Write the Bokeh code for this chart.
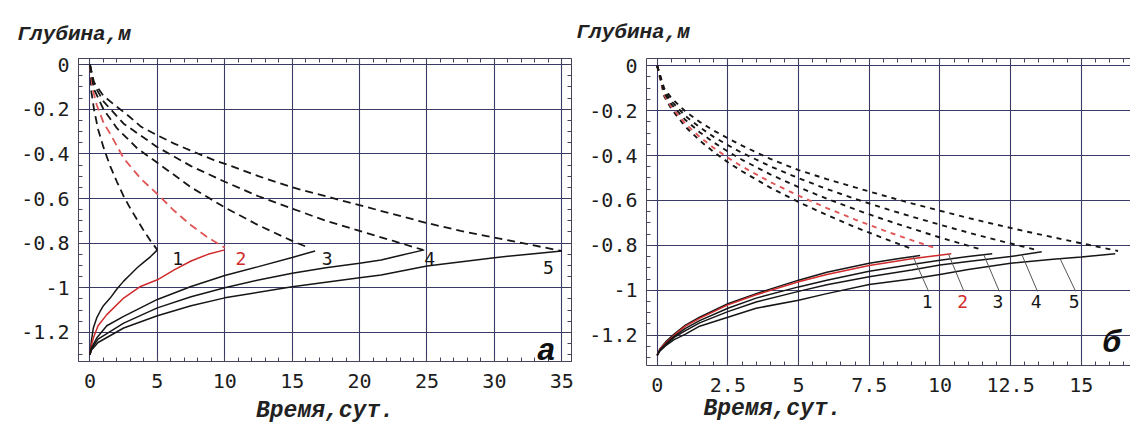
import numpy as np
from bokeh.plotting import figure
from bokeh.models import Range1d, FixedTicker, LinearAxis, Label, CustomJSTickFormatter, Title
from bokeh.layouts import row
from bokeh.embed import file_html
from bokeh.resources import INLINE

# ---------------- panel "а" (time, days ; depth, m) ----------------
curve_ids = ["1", "2", "3", "4", "5"]

a1_dash_t = [0, 0.1, 0.3, 0.6, 1.0, 1.5, 2.0, 2.5, 3.0, 3.5, 4.0, 4.5, 5.0]
a1_dash_d = [0, -0.12, -0.20, -0.29, -0.37, -0.455, -0.525, -0.59, -0.645, -0.695, -0.745, -0.79, -0.83]
a2_dash_t = [0, 0.2, 0.5, 1.0, 1.5, 2.5, 3.75, 5.0, 6.25, 7.5, 8.75, 10.0]
a2_dash_d = [0, -0.11, -0.18, -0.26, -0.31, -0.42, -0.51, -0.58, -0.655, -0.72, -0.775, -0.82]
a3_dash_t = [0, 0.3, 1, 2, 3.5, 5, 7.5, 10, 12.5, 15, 16]
a3_dash_d = [0, -0.11, -0.20, -0.285, -0.375, -0.44, -0.55, -0.64, -0.72, -0.79, -0.815]
a4_dash_t = [0, 0.3, 1, 2.5, 5, 7.5, 10, 12.5, 15, 17.5, 20, 22.5, 24.7]
a4_dash_d = [0, -0.09, -0.165, -0.265, -0.37, -0.455, -0.525, -0.59, -0.645, -0.70, -0.745, -0.79, -0.83]
a5_dash_t = [0, 0.3, 1, 1.7, 2.8, 3.8, 5, 6.25, 7.7, 9.2, 10.5, 12.5, 15, 17.5, 20, 22.5, 25, 27.5, 30, 32.5, 35]
a5_dash_d = [0, -0.08, -0.14, -0.175, -0.227, -0.279, -0.317, -0.354, -0.391, -0.428, -0.455, -0.50,
             -0.55, -0.59, -0.63, -0.67, -0.71, -0.745, -0.775, -0.805, -0.835]

a1_sol_t = [0, 0.1, 0.25, 0.5, 0.75, 1.0, 1.5, 2.0, 2.5, 3.0, 3.5, 4.0, 4.5, 5.0]
a1_sol_d = [-1.30, -1.24, -1.18, -1.135, -1.106, -1.08, -1.046, -1.005, -0.97, -0.94, -0.91, -0.885, -0.86, -0.83]
a2_sol_t = [0, 0.1, 0.25, 0.6, 1.25, 2.5, 3.75, 5, 6.25, 7.5, 8.75, 10]
a2_sol_d = [-1.30, -1.26, -1.225, -1.17, -1.12, -1.046, -0.994, -0.964, -0.92, -0.88, -0.85, -0.83]
a3_sol_t = [0, 0.1, 0.5, 1.25, 2.5, 3.75, 5, 7.5, 10, 12.5, 15, 16.7]
a3_sol_d = [-1.30, -1.27, -1.225, -1.17, -1.128, -1.09, -1.052, -0.994, -0.945, -0.905, -0.864, -0.835]
a4_sol_t = [0, 0.1, 0.6, 2.5, 5, 7.5, 10, 12.5, 15, 17.5, 20, 21.6, 23, 24.8]
a4_sol_d = [-1.30, -1.275, -1.23, -1.158, -1.09, -1.04, -1.0, -0.965, -0.935, -0.91, -0.89, -0.875, -0.855, -0.83]
a5_sol_t = [0, 0.1, 0.6, 2.5, 5, 7.5, 10, 15, 20, 21.6, 25, 30, 35]
a5_sol_d = [-1.30, -1.28, -1.245, -1.18, -1.125, -1.08, -1.045, -0.995, -0.955, -0.943, -0.902, -0.865, -0.835]

a_xticks = [0, 5, 10, 15, 20, 25, 30, 35]
a_yticks = [0, -0.2, -0.4, -0.6, -0.8, -1.0, -1.2]

# ---------------- panel "б" ----------------
b1_dash_t = [0, 0.25, 0.5, 1, 1.5, 2, 2.5, 3, 4, 5, 6, 7, 8, 9.0]
b1_dash_d = [0, -0.136, -0.192, -0.272, -0.333, -0.384, -0.43, -0.47, -0.543, -0.607, -0.665, -0.719, -0.768, -0.815]
b2_dash_t = [0, 0.25, 0.5, 1, 1.5, 2, 2.5, 3, 4, 5, 6, 7, 8, 9, 9.9]
b2_dash_d = [0, -0.13, -0.183, -0.259, -0.317, -0.366, -0.41, -0.449, -0.518, -0.579, -0.634, -0.685, -0.733, -0.777, -0.815]
b3_dash_t = [0, 0.25, 0.5, 1, 1.5, 2, 2.5, 3, 4, 5, 6, 7, 8, 9, 10, 11.5]
b3_dash_d = [0, -0.121, -0.171, -0.242, -0.296, -0.342, -0.382, -0.419, -0.484, -0.541, -0.592, -0.64, -0.684, -0.725, -0.765, -0.82]
b4_dash_t = [0, 0.25, 0.5, 1, 1.5, 2, 2.5, 3, 4, 5, 6, 7, 8, 9, 10, 11, 12, 13.4]
b4_dash_d = [0, -0.112, -0.158, -0.224, -0.274, -0.317, -0.354, -0.388, -0.448, -0.501, -0.549, -0.593, -0.634,
             -0.672, -0.708, -0.743, -0.776, -0.82]
b5_dash_t = [0, 0.25, 0.5, 1, 1.5, 2, 2.5, 3, 4, 5, 6, 7, 8, 9, 10, 11, 12, 13, 14, 15, 16.3]
b5_dash_d = [0, -0.102, -0.144, -0.204, -0.25, -0.289, -0.323, -0.356, -0.415, -0.465, -0.505, -0.542, -0.578,
             -0.613, -0.646, -0.678, -0.708, -0.737, -0.764, -0.791, -0.825]

b1_sol_t = [0, 0.1, 0.3, 0.6, 1, 1.5, 2.5, 3.5, 5, 6, 7.5, 8.5, 9.3]
b1_sol_d = [-1.29, -1.26, -1.23, -1.195, -1.155, -1.12, -1.06, -1.015, -0.955, -0.92, -0.88, -0.86, -0.845]
b2_sol_t = [0, 0.1, 0.3, 0.6, 1, 1.5, 2.5, 3.5, 5, 6, 7.5, 9, 10.4]
b2_sol_d = [-1.29, -1.262, -1.235, -1.2, -1.16, -1.125, -1.065, -1.02, -0.962, -0.93, -0.89, -0.86, -0.837]
b3_sol_t = [0, 0.1, 0.3, 0.6, 1, 1.5, 2.5, 3.5, 5, 6, 7.5, 9, 10, 11, 11.85]
b3_sol_d = [-1.29, -1.265, -1.24, -1.205, -1.17, -1.135, -1.08, -1.035, -0.985, -0.955, -0.915, -0.885, -0.866, -0.85, -0.837]
b4_sol_t = [0, 0.1, 0.3, 0.6, 1, 1.5, 2.5, 3.5, 5, 6, 7.5, 9, 10, 11, 12.5, 13.6]
b4_sol_d = [-1.29, -1.267, -1.243, -1.21, -1.18, -1.145, -1.095, -1.052, -1.005, -0.975, -0.94, -0.91, -0.888,
            -0.872, -0.85, -0.828]
b5_sol_t = [0, 0.1, 0.3, 0.6, 1, 1.5, 2.5, 3.5, 5, 6, 7.5, 9, 10, 11, 12.5, 14, 15, 16.2]
b5_sol_d = [-1.29, -1.27, -1.247, -1.22, -1.195, -1.16, -1.12, -1.08, -1.044, -1.015, -0.974, -0.95, -0.93,
            -0.908, -0.88, -0.862, -0.852, -0.837]

b_xticks = [0, 2.5, 5, 7.5, 10, 12.5, 15]
b_yticks = [0, -0.2, -0.4, -0.6, -0.8, -1.0, -1.2]

y_title = "Глубина,м"
x_title = "Время,сут."

# ---------------- styling ----------------
BLACK = "#161616"
RED = "#d02a2a"
RED_D = "#e05555"
GRID = "#3a3a66"
FRAME = "#44445a"
TICK_FONT = "DejaVu Sans Mono"
TITLE_FONT = "Liberation Mono"

fmt_code = "return String(Math.round(tick*1000)/1000);"


def style_axis(ax, ticker, standoff, font_size="20px", line=True):
    ax.ticker = ticker
    ax.formatter = CustomJSTickFormatter(code=fmt_code)
    ax.major_tick_in = 0
    ax.major_tick_out = 0
    ax.minor_tick_in = 4
    ax.minor_tick_out = 0
    ax.minor_tick_line_color = FRAME
    ax.axis_line_color = FRAME if line else None
    ax.major_label_standoff = standoff
    ax.major_label_text_font = TICK_FONT
    ax.major_label_text_color = "#1c1c1c"
    ax.major_label_text_font_size = font_size


def make_panel(xr, yr, fw, fh, ml, mr, mt, mb, xt, xminor, yt, yminor, right_axis):
    p = figure(frame_width=fw, frame_height=fh, x_range=Range1d(*xr), y_range=Range1d(*yr),
               output_backend="svg", toolbar_location=None,
               min_border_left=ml, min_border_right=mr, min_border_top=mt, min_border_bottom=mb)
    p.background_fill_color = "white"
    p.border_fill_color = "white"
    style_axis(p.xaxis[0], FixedTicker(ticks=xt, minor_ticks=xminor), 12)
    style_axis(p.yaxis[0], FixedTicker(ticks=yt, minor_ticks=yminor), 9)
    # frame ticks on the top (minor only, no labels)
    top = LinearAxis()
    style_axis(top, FixedTicker(ticks=[], minor_ticks=xminor), 0)
    p.add_layout(top, "above")
    if right_axis:
        rt = LinearAxis()
        style_axis(rt, FixedTicker(ticks=[], minor_ticks=yminor), 0)
        p.add_layout(rt, "right")
        p.outline_line_color = FRAME
    else:
        p.outline_line_color = None
    p.xgrid[0].ticker = FixedTicker(ticks=xt)
    p.ygrid[0].ticker = FixedTicker(ticks=yt)
    for g in (p.xgrid[0], p.ygrid[0]):
        g.grid_line_color = GRID
        g.grid_line_width = 1.1
    return p


def add_titles(p, ytxt_offset, ystandoff, xtxt_align, xtxt_offset, xsize, xstandoff):
    p.add_layout(Title(text=y_title, align="left", offset=ytxt_offset, standoff=ystandoff,
                       text_font=TITLE_FONT, text_font_style="bold italic", text_font_size="21px",
                       text_color="#222"), "above")
    p.add_layout(Title(text=x_title, align=xtxt_align, offset=xtxt_offset, standoff=xstandoff,
                       text_font=TITLE_FONT, text_font_style="bold italic", text_font_size=xsize,
                       text_color="#222"), "below")


# ---- panel а ----
p1 = make_panel((-0.85, 35.72), (-1.330, 0.027), 493, 303, 78, 4, 55, 67,
                a_xticks, [v for v in range(0, 36)],
                a_yticks, [round(-0.05 * k, 2) for k in range(0, 27)], True)

a_dash = [(a1_dash_t, a1_dash_d), (a2_dash_t, a2_dash_d), (a3_dash_t, a3_dash_d),
          (a4_dash_t, a4_dash_d), (a5_dash_t, a5_dash_d)]
a_sol = [(a1_sol_t, a1_sol_d), (a2_sol_t, a2_sol_d), (a3_sol_t, a3_sol_d),
         (a4_sol_t, a4_sol_d), (a5_sol_t, a5_sol_d)]
for i, (t, d) in enumerate(a_dash):
    p1.line(t, d, line_color=RED_D if i == 1 else BLACK, line_width=1.8, line_dash="8 5")
for i, (t, d) in enumerate(a_sol):
    p1.line(t, d, line_color=RED if i == 1 else BLACK, line_width=1.5)

a_lab_x = [6.5, 11.2, 17.6, 25.2, 34.0]
a_lab_y = [-0.87, -0.87, -0.87, -0.87, -0.91]
for i, cid in enumerate(curve_ids):
    p1.add_layout(Label(x=a_lab_x[i], y=a_lab_y[i], text=cid, text_font=TICK_FONT,
                        text_font_size="18px", text_align="center", text_baseline="middle",
                        text_color=RED if i == 1 else BLACK))
p1.add_layout(Label(x=33.86, y=-1.284, text="а", text_font=TITLE_FONT, text_font_style="bold italic",
                    text_font_size="32px", text_align="center", text_baseline="middle", text_color="#111"))
add_titles(p1, -61, 26, "center", 0, "23px", 10)

# ---- panel б ----
p2 = make_panel((-0.378, 16.74), (-1.335, 0.032), 484, 307, 71, 0, 58, 60,
                b_xticks, [round(0.5 * k, 2) for k in range(0, 34)],
                b_yticks, [round(-0.05 * k, 2) for k in range(0, 27)], False)

b_dash = [(b1_dash_t, b1_dash_d), (b2_dash_t, b2_dash_d), (b3_dash_t, b3_dash_d),
          (b4_dash_t, b4_dash_d), (b5_dash_t, b5_dash_d)]
b_sol = [(b1_sol_t, b1_sol_d), (b2_sol_t, b2_sol_d), (b3_sol_t, b3_sol_d),
         (b4_sol_t, b4_sol_d), (b5_sol_t, b5_sol_d)]
for i, (t, d) in enumerate(b_dash):
    p2.line(t, d, line_color=RED_D if i == 1 else BLACK, line_width=1.9, line_dash="5 5")
for i, (t, d) in enumerate(b_sol):
    p2.line(t, d, line_color=RED if i == 1 else BLACK, line_width=1.5)

b_lab_x = [9.55, 10.8, 12.05, 13.4, 14.75]
b_lab_y = -1.05
for i, cid in enumerate(curve_ids):
    t, d = b_sol[i]
    x_top = b_lab_x[i] - 0.5
    y_top = float(np.interp(x_top, t, d))
    p2.line([b_lab_x[i] + 0.05, x_top], [b_lab_y + 0.045, y_top], line_color="#555", line_width=1)
    p2.add_layout(Label(x=b_lab_x[i], y=b_lab_y, text=cid, text_font=TICK_FONT,
                        text_font_size="18px", text_align="center", text_baseline="middle",
                        text_color=RED if i == 1 else BLACK))
p2.add_layout(Label(x=16.07, y=-1.237, text="б", text_font=TITLE_FONT, text_font_style="bold italic",
                    text_font_size="32px", text_align="center", text_baseline="middle", text_color="#111"))
add_titles(p2, -70, 29, "left", 57, "23px", -2)

layout = row(p1, p2, spacing=0)
open("out.html", "w").write(file_html(layout, INLINE))
